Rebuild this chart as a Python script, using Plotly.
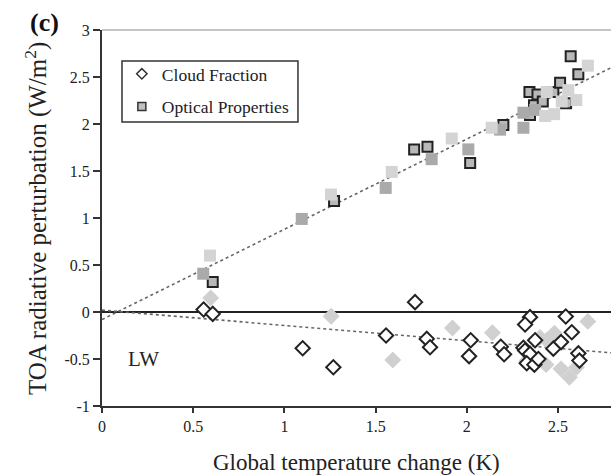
import plotly.graph_objects as go

# Cloud-fraction contribution (diamonds)
cf_dark_x = [0.557, 0.607, 1.100, 1.268, 1.716, 1.557, 1.780, 1.798, 2.021, 2.012,
             2.186, 2.204, 2.346, 2.319, 2.310, 2.319, 2.346, 2.328, 2.370, 2.392,
             2.374, 2.474, 2.516, 2.542, 2.575, 2.611, 2.617]
cf_dark_y = [0.027, -0.020, -0.386, -0.588, 0.105, -0.250, -0.286, -0.375, -0.300, -0.470,
             -0.370, -0.450, -0.055, -0.133, -0.380, -0.410, -0.446, -0.545, -0.560, -0.500,
             -0.300, -0.390, -0.320, -0.048, -0.215, -0.440, -0.517]
cf_light_x = [0.596, 1.256, 1.594, 1.921, 2.140, 2.328, 2.400, 2.438, 2.434, 2.480,
              2.516, 2.562, 2.600, 2.663]
cf_light_y = [0.150, -0.045, -0.510, -0.170, -0.220, -0.520, -0.270, -0.300, -0.560, -0.226,
              -0.605, -0.695, -0.590, -0.100]

# Optical-properties contribution (squares)
op_dark_x = [0.607, 1.272, 1.711, 1.784, 2.018, 2.200, 2.346, 2.343, 2.387, 2.368,
             2.416, 2.474, 2.511, 2.544, 2.569, 2.611]
op_dark_y = [0.318, 1.180, 1.730, 1.757, 1.586, 1.990, 2.095, 2.340, 2.315, 2.200,
             2.240, 2.340, 2.440, 2.220, 2.720, 2.530]
op_mid_x = [0.555, 1.095, 1.555, 1.807, 2.008, 2.182, 2.310, 2.374, 2.310]
op_mid_y = [0.407, 0.990, 1.320, 1.626, 1.730, 1.940, 1.960, 2.150, 2.120]
op_light_x = [0.592, 1.255, 1.588, 1.917, 2.136, 2.438, 2.429, 2.478, 2.556, 2.520,
              2.600, 2.663]
op_light_y = [0.600, 1.250, 1.490, 1.846, 1.960, 2.340, 2.085, 2.105, 2.360, 2.240,
              2.255, 2.620]

# Linear fits: [intercept, slope]
op_fit = [-0.08, 0.96]
cf_fit = [0.02, -0.163]

x_ticks = [0, 0.5, 1, 1.5, 2, 2.5]
x_tick_text = ["0", "0.5", "1", "1.5", "2", "2.5"]
y_ticks = [-1, -0.5, 0, 0.5, 1, 1.5, 2, 2.5, 3]
y_tick_text = ["-1", "-0.5", "0", "0.5", "1", "1.5", "2", "2.5", "3"]

X_MAX = 2.79
FONT = "Liberation Serif, Times New Roman, serif"
INK = "#222222"

fig = go.Figure()

fit_x = [0, X_MAX]
for fit in (op_fit, cf_fit):
    fig.add_trace(go.Scatter(
        x=fit_x, y=[fit[0] + fit[1] * v for v in fit_x], mode="lines",
        line=dict(color="#666666", width=1.6, dash="dot"),
        showlegend=False, hoverinfo="skip"))

# squares
fig.add_trace(go.Scatter(
    x=op_dark_x, y=op_dark_y, mode="markers", showlegend=False,
    marker=dict(symbol="square", size=10, color="#b8b8b8",
                line=dict(color="#222222", width=2))))
fig.add_trace(go.Scatter(
    x=op_mid_x, y=op_mid_y, mode="markers", showlegend=False,
    marker=dict(symbol="square", size=12, color="#aaaaaa", line=dict(width=0))))
fig.add_trace(go.Scatter(
    x=op_light_x, y=op_light_y, mode="markers", showlegend=False,
    marker=dict(symbol="square", size=12, color="#d4d4d4", line=dict(width=0))))

# diamonds
fig.add_trace(go.Scatter(
    x=cf_light_x, y=cf_light_y, mode="markers", showlegend=False,
    marker=dict(symbol="diamond", size=13, color="#d0d0d0", line=dict(width=0))))
fig.add_trace(go.Scatter(
    x=cf_dark_x, y=cf_dark_y, mode="markers", showlegend=False,
    marker=dict(symbol="diamond", size=11, color="white",
                line=dict(color="#222222", width=2))))

# legend entries
fig.add_trace(go.Scatter(
    x=[None], y=[None], mode="markers", name="Cloud Fraction", legendgroup="a",
    marker=dict(symbol="diamond", size=8, color="white",
                line=dict(color="#333333", width=1.5))))
fig.add_trace(go.Scatter(
    x=[None], y=[None], mode="markers", name="Optical Properties", legendgroup="b",
    marker=dict(symbol="square", size=8, color="#c0c0c0",
                line=dict(color="#333333", width=1.5))))

axis_common = dict(
    showgrid=False, showline=True, linecolor="#333333", linewidth=2,
    ticks="outside", tickcolor="#333333", tickwidth=1.5,
    tickfont=dict(family=FONT, size=16, color=INK), tickmode="array")

fig.update_xaxes(range=[0, X_MAX], tickvals=x_ticks, ticktext=x_tick_text,
                 ticklen=5, zeroline=False, **axis_common)
fig.update_yaxes(range=[-1, 3], tickvals=y_ticks, ticktext=y_tick_text,
                 ticklen=7, zeroline=True, zerolinecolor="#222222",
                 zerolinewidth=1.6, **axis_common)

# top frame line and legend box
fig.add_shape(type="line", xref="paper", yref="paper", x0=0, x1=1, y0=1, y1=1,
              line=dict(color="#8c8c8c", width=1.2))
fig.add_shape(type="rect", xref="paper", yref="paper",
              x0=0.0393, x1=0.385, y0=0.755, y1=0.9176,
              line=dict(color="#333333", width=1.5))

fig.add_annotation(text="Global temperature change (K)", xref="paper", yref="paper",
                   x=0.5, y=-0.149, xanchor="center", yanchor="middle",
                   showarrow=False, font=dict(family=FONT, size=23, color=INK))
fig.add_annotation(text="TOA radiative perturbation (W/m<sup>2</sup>)",
                   xref="paper", yref="paper", x=-0.1297, y=0.5, textangle=-90,
                   xanchor="center", yanchor="middle", showarrow=False,
                   font=dict(family=FONT, size=25, color=INK))
fig.add_annotation(text="<b>(c)</b>", xref="paper", yref="paper",
                   x=-0.112, y=1.021, xanchor="center", yanchor="middle",
                   showarrow=False, font=dict(family=FONT, size=26, color="#111111"))
fig.add_annotation(text="LW", x=0.225, y=-0.5, xanchor="center", yanchor="middle",
                   showarrow=False, font=dict(family=FONT, size=21, color=INK))

fig.update_layout(
    width=611, height=476,
    margin=dict(l=102, r=0, t=30, b=70),
    paper_bgcolor="white", plot_bgcolor="white",
    legend=dict(x=0.039, y=0.931, xanchor="left", yanchor="top",
                borderwidth=0, bgcolor="rgba(0,0,0,0)",
                font=dict(family=FONT, size=17.5, color=INK),
                tracegroupgap=7, traceorder="grouped"),
)

fig.write_html("out.html")
